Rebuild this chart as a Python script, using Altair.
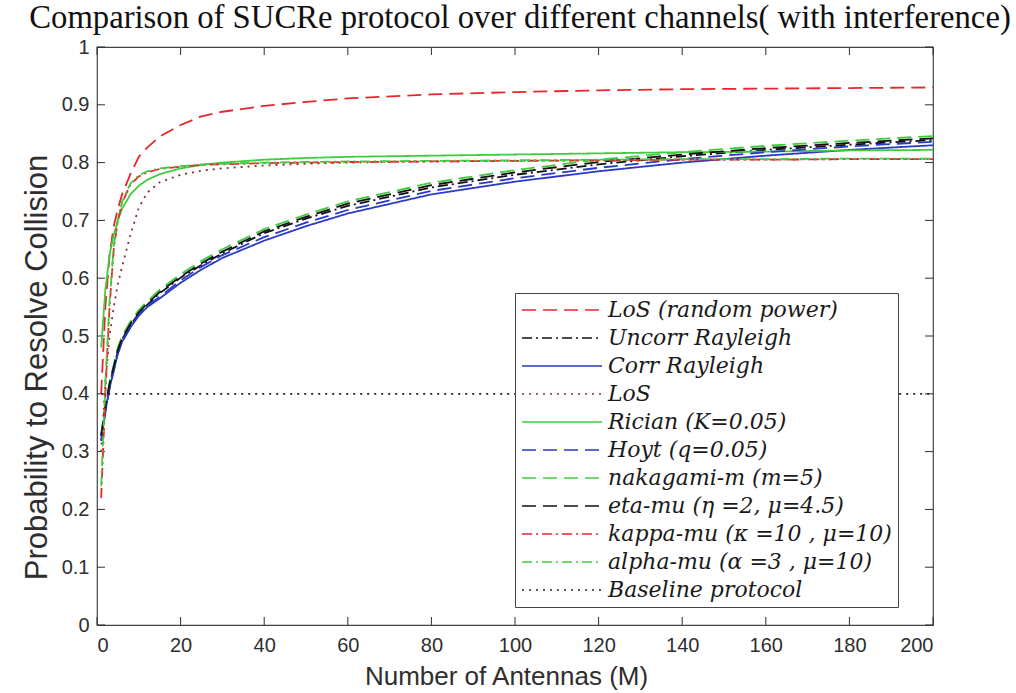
import altair as alt
import pandas as pd

# Number of antennas at which each protocol was evaluated
M = [1, 2, 3, 4, 5, 6, 8, 10, 12, 15, 20, 25, 30, 40, 50, 60, 80, 100, 120, 140, 160, 180, 200]

los_random_power = [0.40, 0.55, 0.64, 0.69, 0.72, 0.745, 0.78, 0.81, 0.826, 0.845, 0.865, 0.88,
                    0.888, 0.898, 0.905, 0.911, 0.918, 0.922, 0.925, 0.927, 0.928, 0.929, 0.930]
uncorr_rayleigh = [0.327, 0.376, 0.415, 0.445, 0.474, 0.494, 0.519, 0.539, 0.554, 0.574, 0.601, 0.623,
                   0.643, 0.678, 0.703, 0.725, 0.757, 0.779, 0.797, 0.811, 0.822, 0.831, 0.839]
corr_rayleigh = [0.32, 0.37, 0.41, 0.44, 0.47, 0.49, 0.515, 0.535, 0.55, 0.565, 0.592, 0.615,
                 0.635, 0.665, 0.69, 0.712, 0.745, 0.767, 0.785, 0.80, 0.812, 0.822, 0.83]
los = [0.30, 0.42, 0.50, 0.55, 0.59, 0.62, 0.675, 0.722, 0.748, 0.766, 0.779, 0.786,
       0.790, 0.795, 0.798, 0.80, 0.802, 0.803, 0.804, 0.805, 0.805, 0.806, 0.806]
rician = [0.48, 0.58, 0.64, 0.675, 0.70, 0.72, 0.745, 0.76, 0.77, 0.78, 0.79, 0.796,
          0.80, 0.805, 0.808, 0.81, 0.812, 0.814, 0.816, 0.818, 0.819, 0.821, 0.822]
hoyt = [0.318, 0.368, 0.408, 0.44, 0.47, 0.49, 0.515, 0.537, 0.552, 0.568, 0.596, 0.62,
        0.64, 0.671, 0.696, 0.718, 0.751, 0.773, 0.791, 0.806, 0.818, 0.828, 0.836]
nakagami = [0.33, 0.38, 0.42, 0.45, 0.48, 0.50, 0.525, 0.545, 0.56, 0.58, 0.607, 0.63,
            0.65, 0.685, 0.71, 0.733, 0.765, 0.787, 0.805, 0.818, 0.829, 0.838, 0.846]
eta_mu = [0.328, 0.377, 0.417, 0.447, 0.476, 0.496, 0.521, 0.541, 0.556, 0.576, 0.603, 0.626,
          0.646, 0.681, 0.706, 0.729, 0.761, 0.783, 0.801, 0.814, 0.825, 0.834, 0.842]
kappa_mu = [0.22, 0.40, 0.55, 0.65, 0.70, 0.73, 0.762, 0.776, 0.783, 0.789, 0.793, 0.796,
            0.797, 0.799, 0.80, 0.801, 0.802, 0.803, 0.804, 0.805, 0.805, 0.806, 0.806]
alpha_mu = [0.24, 0.42, 0.56, 0.655, 0.703, 0.732, 0.764, 0.778, 0.785, 0.79, 0.794, 0.797,
            0.798, 0.80, 0.801, 0.802, 0.803, 0.804, 0.805, 0.806, 0.806, 0.807, 0.807]

# Baseline protocol is flat over the whole antenna range
baseline_M = [1, 200]
baseline = [0.4, 0.4]

names = [
    "LoS (random power)",
    "Uncorr Rayleigh",
    "Corr Rayleigh",
    "LoS",
    "Rician (K=0.05)",
    "Hoyt (q=0.05)",
    "nakagami-m (m=5)",
    "eta-mu (η =2, μ=4.5)",
    "kappa-mu (κ =10 , μ=10)",
    "alpha-mu (α =3 , μ=10)",
    "Baseline protocol",
]
colors = ["#e8262b", "#111111", "#2a3ac4", "#8a3030", "#40cc40", "#2a3ac4",
          "#40cc40", "#111111", "#e8262b", "#40cc40", "#222222"]
dashes = [[14, 7], [10, 4, 2, 4], [1, 0], [2, 5], [1, 0], [14, 7],
          [14, 7], [14, 7], [10, 4, 2, 4], [10, 4, 2, 4], [2, 5]]

curves = [los_random_power, uncorr_rayleigh, corr_rayleigh, los, rician, hoyt,
          nakagami, eta_mu, kappa_mu, alpha_mu]

rows = []
for name, vals in zip(names[:-1], curves):
    for m, v in zip(M, vals):
        rows.append({"M": m, "P": v, "series": name})
for m, v in zip(baseline_M, baseline):
    rows.append({"M": m, "P": v, "series": names[-1]})
df = pd.DataFrame(rows)

W, H = 836, 578
AX = "#2e2e2e"

x_scale = alt.Scale(domain=[0, 200], nice=False)
y_scale = alt.Scale(domain=[0, 1], nice=False)

legend = alt.Legend(
    title=None, orient="none", legendX=418, legendY=246,
    strokeColor="#444444", fillColor="white", padding=6,
    labelFont="DejaVu Serif", labelFontStyle="italic", labelFontSize=22,
    labelColor="#1a1a1a", labelLimit=500, labelOffset=5,
    symbolType="stroke", symbolSize=6400, symbolStrokeWidth=1.6,
    clipHeight=22, rowPadding=6,
)

axis_style = dict(
    ticks=False, domain=False, grid=False,
    labelFont="Liberation Sans", labelFontSize=20, labelColor=AX,
    titleFont="Liberation Sans", titleColor=AX, titleFontWeight="normal",
)

lines = alt.Chart(df).mark_line(strokeWidth=1.8).encode(
    x=alt.X("M:Q", scale=x_scale,
            axis=alt.Axis(values=list(range(0, 201, 20)), title="Number of Antennas (M)",
                          titleFontSize=26, titleX=409, labelPadding=10, titlePadding=8,
                          **axis_style)),
    y=alt.Y("P:Q", scale=y_scale,
            axis=alt.Axis(values=[i / 10 for i in range(11)], format="~g",
                          title="Probability to Resolve Collision",
                          titleFontSize=31, titleY=320, labelPadding=8, titlePadding=8,
                          **axis_style)),
    color=alt.Color("series:N", scale=alt.Scale(domain=names, range=colors), legend=legend),
    strokeDash=alt.StrokeDash("series:N", scale=alt.Scale(domain=names, range=dashes),
                              legend=legend),
    detail="series:N",
)

# Inward tick marks on all four sides of the box
xticks = pd.DataFrame({"t": list(range(0, 201, 20))})
yticks = pd.DataFrame({"t": [i / 10 for i in range(11)]})
tick_len = 8

bottom_ticks = alt.Chart(xticks).mark_rule(color=AX, strokeWidth=1).encode(
    x=alt.X("t:Q", scale=x_scale), y=alt.value(H), y2=alt.value(H - tick_len))
top_ticks = alt.Chart(xticks).mark_rule(color=AX, strokeWidth=1).encode(
    x=alt.X("t:Q", scale=x_scale), y=alt.value(0), y2=alt.value(tick_len))
left_ticks = alt.Chart(yticks).mark_rule(color=AX, strokeWidth=1).encode(
    y=alt.Y("t:Q", scale=y_scale), x=alt.value(0), x2=alt.value(tick_len))
right_ticks = alt.Chart(yticks).mark_rule(color=AX, strokeWidth=1).encode(
    y=alt.Y("t:Q", scale=y_scale), x=alt.value(W), x2=alt.value(W - tick_len))

chart = alt.layer(bottom_ticks, top_ticks, left_ticks, right_ticks, lines).properties(
    width=W,
    height=H,
    autosize=alt.AutoSizeParams(type="none"),
    padding={"left": 97, "top": 47, "right": 83, "bottom": 68},
    background="white",
    title=alt.Title("Comparison of SUCRe protocol over different channels( with interference)",
                    font="Liberation Serif", fontSize=32.7, fontWeight="normal",
                    color="#111111", anchor="middle", offset=2, dx=5),
).configure_view(stroke="#444444", strokeWidth=1.2)

chart.save("out.html", embed_options={"renderer": "svg", "actions": False})
